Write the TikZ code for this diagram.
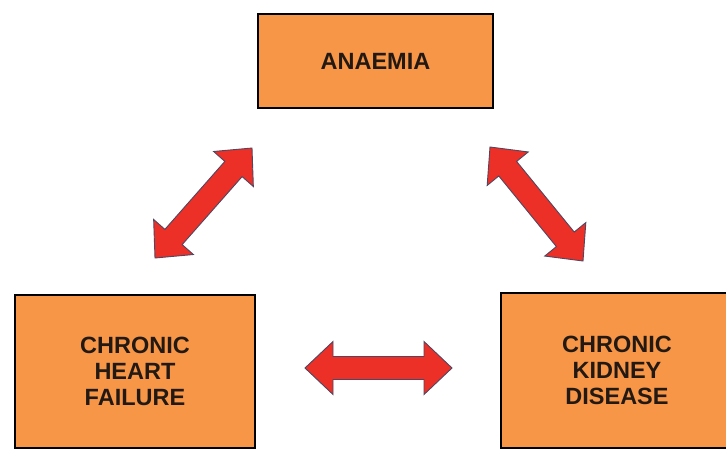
\documentclass[tikz,border=0pt]{standalone}
\usepackage{fontspec}
\setmainfont{Liberation Sans}
\usetikzlibrary{calc}
\definecolor{boxfill}{RGB}{247,150,70}
\definecolor{arrowfill}{RGB}{236,48,40}
\definecolor{arrowline}{RGB}{80,70,95}
\definecolor{txt}{RGB}{35,25,20}
\tikzset{
  boxnode/.style={draw=black, line width=2.6pt, fill=boxfill, rectangle,
    align=center, font=\bfseries\fontsize{23.5}{26}\selectfont, text=txt, inner sep=0pt},
  blockarr/.style={fill=arrowfill, draw=arrowline, line width=0.9pt, line join=miter}
}
% double block arrow between two tip coordinates
\newcommand{\dblblockarrow}[2]{%
  \path[blockarr] (#1)
    -- ($($(#1)!28pt!(#2)$)!26.5pt!90:(#2)$)
    -- ($($(#1)!28pt!(#2)$)!11.5pt!90:(#2)$)
    -- ($($(#2)!28pt!(#1)$)!11.5pt!-90:(#1)$)
    -- ($($(#2)!28pt!(#1)$)!26.5pt!-90:(#1)$)
    -- (#2)
    -- ($($(#2)!28pt!(#1)$)!26.5pt!90:(#1)$)
    -- ($($(#2)!28pt!(#1)$)!11.5pt!90:(#1)$)
    -- ($($(#1)!28pt!(#2)$)!11.5pt!-90:(#2)$)
    -- ($($(#1)!28pt!(#2)$)!26.5pt!-90:(#2)$)
    -- cycle;}
\begin{document}
\begin{tikzpicture}[x=1pt,y=-1pt]
\clip (0,0) rectangle (726,450);
\fill[white] (0,0) rectangle (726,450);
\node[boxnode, minimum width=235pt, minimum height=94pt] (anaemia) at (375.5,61) {ANAEMIA};
\node[boxnode, minimum width=240pt, minimum height=153pt] (chf) at (135,371.5) {CHRONIC\\HEART\\FAILURE};
\node[boxnode, minimum width=232pt, minimum height=155pt] (ckd) at (617,370.5) {CHRONIC\\KIDNEY\\DISEASE};
% arrow tips
\coordinate (l1) at (155,258);
\coordinate (l2) at (252,148);
\coordinate (r1) at (490,147);
\coordinate (r2) at (583,261);
\coordinate (h1) at (305,368);
\coordinate (h2) at (452,368);
\dblblockarrow{l1}{l2}
\dblblockarrow{r1}{r2}
\dblblockarrow{h1}{h2}
\end{tikzpicture}
\end{document}
